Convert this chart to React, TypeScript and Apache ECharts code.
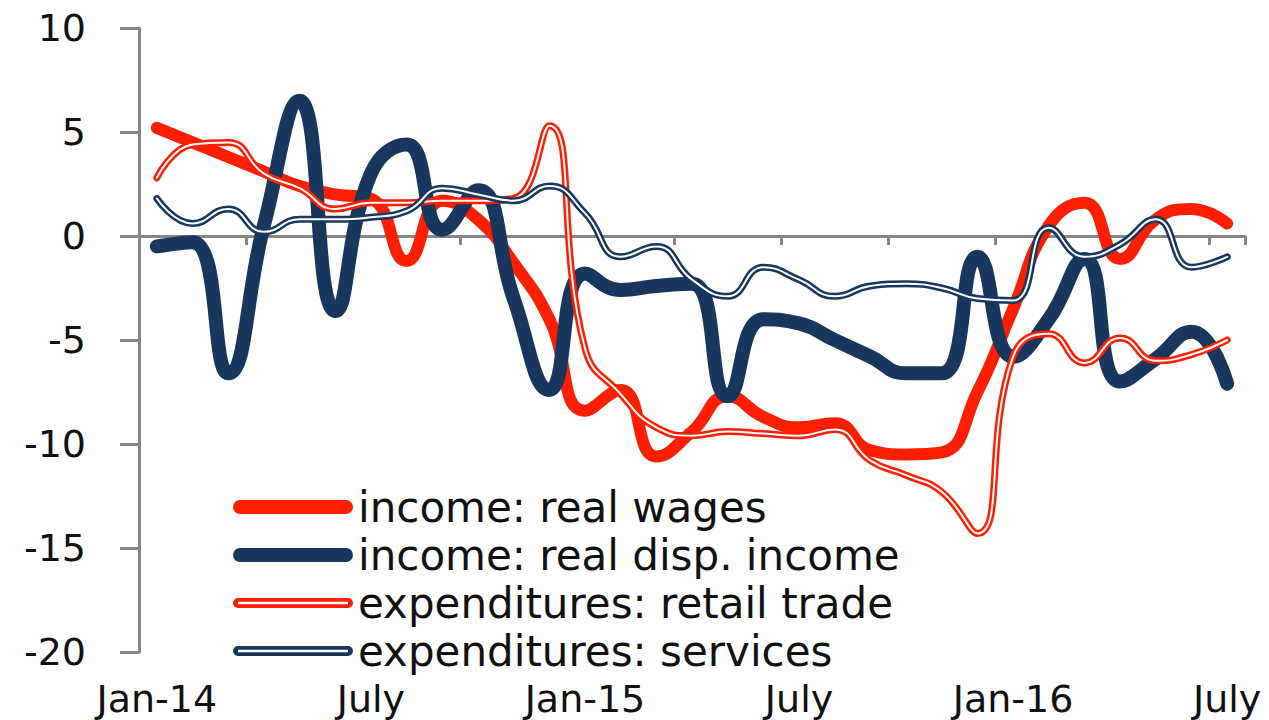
import React, { useEffect, useRef } from 'react';
import * as echarts from 'echarts';

const months = [
  'Jan-14', 'Feb-14', 'Mar-14', 'Apr-14', 'May-14', 'Jun-14', 'Jul-14', 'Aug-14', 'Sep-14', 'Oct-14', 'Nov-14', 'Dec-14',
  'Jan-15', 'Feb-15', 'Mar-15', 'Apr-15', 'May-15', 'Jun-15', 'Jul-15', 'Aug-15', 'Sep-15', 'Oct-15', 'Nov-15', 'Dec-15',
  'Jan-16', 'Feb-16', 'Mar-16', 'Apr-16', 'May-16', 'Jun-16', 'Jul-16',
];

const realWages = [5.2, 4.5, 3.8, 3.1, 2.4, 2.0, 1.8, -1.2, 1.7, 0.8, -1.3, -4.0, -8.4, -7.4, -10.6, -9.4, -7.7, -8.7, -9.2, -9.0, -10.3, -10.5, -10.4, -7.5, -3.5, 0.5, 1.6, -1.1, 0.8, 1.3, 0.6];
const realDispIncome = [-0.5, -0.3, -6.6, 0.5, 6.5, -3.6, 3.0, 4.4, 0.3, 2.2, -3.0, -7.4, -1.8, -2.6, -2.4, -2.3, -7.7, -4.0, -4.2, -5.0, -5.8, -6.6, -6.6, -1.0, -5.8, -4.0, -1.1, -7.0, -5.9, -4.6, -7.1];
const retailTrade = [2.8, 4.4, 4.5, 3.0, 2.3, 1.3, 1.6, 1.6, 1.7, 1.7, 1.8, 5.3, -5.4, -7.6, -9.2, -9.6, -9.4, -9.5, -9.6, -9.3, -10.8, -11.5, -12.3, -14.3, -5.8, -4.7, -6.1, -4.9, -6.0, -5.7, -5.0];
const services = [1.8, 0.6, 1.3, 0.2, 0.8, 0.8, 0.9, 1.2, 2.3, 2.0, 1.7, 2.4, 1.1, -1.0, -0.5, -2.1, -2.9, -1.5, -2.1, -2.9, -2.4, -2.3, -2.5, -3.0, -3.1, 0.4, -1.0, -0.4, 0.8, -1.5, -1.0];

const seriesNames = [
  'income: real wages',
  'income: real disp. income',
  'expenditures: retail trade',
  'expenditures: services',
];

const RED = '#ff1e00';
const NAVY = '#17375e';
const FONT = 'DejaVu Sans';
const TEXT = '#111111';
const AXIS = '#868686';

const thickIcon = 'path://M7,0 L113,0 A7,7 0 0 1 113,14 L7,14 A7,7 0 0 1 7,0 Z';
const doubleIcon =
  'path://M0,0 L0.01,0 L0,0.01 Z M120,14 L119.99,14 L120,13.99 Z ' +
  'M5,2 L115,2 A5,5 0 0 1 115,12 L5,12 A5,5 0 0 1 5,2 Z ' +
  'M5,5.8 L5,8.2 L115,8.2 L115,5.8 Z';

function lineSeries(name: string, data: number[], color: string, width: number) {
  return {
    type: 'line',
    name,
    data,
    xAxisIndex: 0,
    yAxisIndex: 0,
    smooth: 0.5,
    symbol: 'none',
    showSymbol: false,
    silent: true,
    lineStyle: { color, width, cap: 'round', join: 'round' },
    itemStyle: { color },
  };
}

export default function App() {
  const ref = useRef<HTMLDivElement>(null);

  useEffect(() => {
    if (!ref.current) return;
    const chart = echarts.init(ref.current, undefined, { renderer: 'svg' });
    const option = {
      animation: false,
      backgroundColor: '#ffffff',
      grid: { left: 139, right: 24, top: 28, bottom: 68, containLabel: false },
      xAxis: [
        {
          type: 'category',
          data: months,
          boundaryGap: true,
          position: 'bottom',
          axisLine: { show: false, onZero: false },
          axisTick: { show: false },
          axisLabel: {
            interval: 5,
            margin: 28,
            fontSize: 38,
            fontFamily: FONT,
            color: TEXT,
            formatter: (v: string) => (v.startsWith('Jul') ? 'July' : v),
          },
          splitLine: { show: false },
        },
        {
          type: 'category',
          data: months,
          boundaryGap: true,
          position: 'bottom',
          axisLine: { show: true, onZero: true, lineStyle: { color: AXIS, width: 3 } },
          axisTick: { show: true, interval: 2, length: 9, lineStyle: { color: AXIS, width: 3 } },
          axisLabel: { show: false },
          splitLine: { show: false },
        },
      ],
      yAxis: {
        type: 'value',
        min: -20,
        max: 10,
        interval: 5,
        axisLine: { show: true, lineStyle: { color: AXIS, width: 3 } },
        axisTick: { show: true, length: 19, lineStyle: { color: AXIS, width: 3 } },
        axisLabel: { margin: 53, fontSize: 38, fontFamily: FONT, color: TEXT },
        splitLine: { show: false },
      },
      legend: {
        orient: 'vertical',
        left: 233,
        top: 486,
        padding: 0,
        itemWidth: 120,
        itemHeight: 14,
        itemGap: 6,
        selectedMode: false,
        textStyle: { fontSize: 42, lineHeight: 40, fontFamily: FONT, color: TEXT },
        itemStyle: { borderWidth: 0 },
        data: [
          { name: seriesNames[0], icon: thickIcon, itemStyle: { color: RED, borderWidth: 0 } },
          { name: seriesNames[1], icon: thickIcon, itemStyle: { color: NAVY, borderWidth: 0 } },
          { name: seriesNames[2], icon: doubleIcon, itemStyle: { color: RED, borderWidth: 0 } },
          { name: seriesNames[3], icon: doubleIcon, itemStyle: { color: NAVY, borderWidth: 0 } },
        ],
      },
      series: [
        lineSeries(seriesNames[0], realWages, RED, 12),
        lineSeries(seriesNames[1], realDispIncome, NAVY, 14),
        lineSeries(seriesNames[2], retailTrade, RED, 7),
        lineSeries('retail trade inner', retailTrade, '#ffffff', 2),
        lineSeries(seriesNames[3], services, NAVY, 7),
        lineSeries('services inner', services, '#ffffff', 2),
      ],
    };
    chart.setOption(option as any);
    return () => chart.dispose();
  }, []);

  return (
    <div
      ref={ref}
      style={{ position: 'fixed', left: 0, top: 0, width: 1269, height: 720, background: '#fff' }}
    />
  );
}
